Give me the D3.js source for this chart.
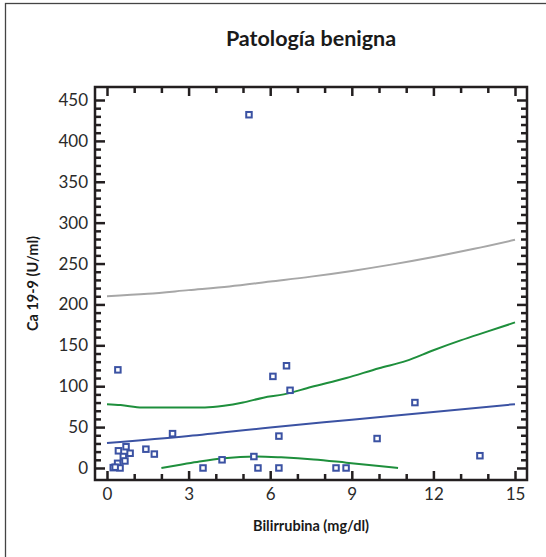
<!DOCTYPE html>
<html>
<head>
<meta charset="utf-8">
<script src="https://cdn.jsdelivr.net/npm/d3@7"></script>
<style>
  body { margin: 0; background: white; }
  svg { display: block; font-family: Lato, "Open Sans", sans-serif; }
</style>
</head>
<body>
<div id="chart"></div>
<script>
// scatter points: bilirrubina (mg/dl) vs Ca 19-9 (U/ml)
var bili = [5.22, 0.4, 6.1, 6.6, 6.73, 11.32, 9.93, 13.71, 6.32, 5.4, 5.55, 6.32, 8.42, 8.79,
  4.23, 3.53, 2.41, 1.43, 1.74, 0.70, 0.42, 0.85, 0.6, 0.66, 0.39, 0.23, 0.48, 0.3];
var ca199 = [432, 120, 112, 125, 95, 80, 36, 15, 39, 14, 0, 0, 0, 0,
  10, 0, 42, 23, 17, 26, 21, 18, 14, 8.6, 5.7, 0.4, 0, 1];

// fitted line
var fitX = [0, 3, 6, 9, 12, 15];
var fitY = [30.5, 39, 49.5, 59, 68.5, 78];

// upper confidence band
var upX = [0, 0.5, 1.3, 2, 3, 3.6, 4.3, 5, 5.75, 6.5, 7.5, 8.8, 10, 11, 12, 13, 14, 15];
var upY = [78, 77, 74, 74, 74, 74, 76, 80, 86, 90, 99, 110, 122, 131, 144, 156, 167, 178];

// lower confidence band
var loX = [2, 2.7, 3.4, 4.3, 5.5, 6.4, 7.6, 8.8, 10, 10.7];
var loY = [0, 4, 8, 12, 14, 13, 10.5, 6.5, 2.4, 0];

// upper prediction limit
var predX = [0, 1.5, 3, 4.5, 6, 7.5, 9, 10.5, 12, 13.5, 15];
var predY = [210, 213, 217.5, 222, 228, 234, 241, 249, 258, 268, 279];

var xMajor = [0, 3, 6, 9, 12, 15];
var yMajor = [0, 50, 100, 150, 200, 250, 300, 350, 400, 450];

var model = {
  width: 546,
  height: 557,
  left: 95,
  right: 527,
  top: 87,
  bottom: 480
};

var svg = d3.select('#chart').append('svg')
  .attr('width', model.width)
  .attr('height', model.height);

// outer frame
svg.append('rect')
  .attr('x', 5.5).attr('y', 3.5)
  .attr('width', 560).attr('height', 580)
  .attr('fill', 'none')
  .attr('stroke', '#444')
  .attr('stroke-width', 1.3);

var x = d3.scaleLinear().domain([-0.441, 15.441]).range([model.left, model.right]);
var y = d3.scaleLinear().domain([-14.7, 465.9]).range([model.bottom, model.top]);

var ink = '#231f20';

// frame of plot
svg.append('rect')
  .attr('x', model.left).attr('y', model.top)
  .attr('width', model.right - model.left)
  .attr('height', model.bottom - model.top)
  .attr('fill', 'none')
  .attr('stroke', ink)
  .attr('stroke-width', 2.5);

var xMinor = d3.range(0, 16, 1).filter((d) => d % 3 !== 0);
var yMinor = d3.range(0, 460, 10).filter((d) => d % 50 !== 0);

function styleAxis(g) {
  g.select('.domain').remove();
  g.selectAll('.tick line').attr('stroke', ink).attr('stroke-width', 2.5);
  g.selectAll('.tick text')
    .attr('fill', '#2a2a2a')
    .style('font-size', '17px')
    .style('font-family', 'Lato, "Open Sans", sans-serif');
}

// bottom
svg.append('g').attr('transform', 'translate(0,' + model.bottom + ')')
  .call(d3.axisBottom(x).tickValues(xMajor).tickSize(-9).tickPadding(8).tickFormat(d3.format('d')))
  .call(styleAxis);
svg.append('g').attr('transform', 'translate(0,' + model.bottom + ')')
  .call(d3.axisBottom(x).tickValues(xMinor).tickSize(-6).tickFormat(''))
  .call(styleAxis);
// top
svg.append('g').attr('transform', 'translate(0,' + model.top + ')')
  .call(d3.axisTop(x).tickValues(xMajor).tickSize(-9).tickFormat(''))
  .call(styleAxis);
svg.append('g').attr('transform', 'translate(0,' + model.top + ')')
  .call(d3.axisTop(x).tickValues(xMinor).tickSize(-6).tickFormat(''))
  .call(styleAxis);
// left
svg.append('g').attr('transform', 'translate(' + model.left + ',0)')
  .call(d3.axisLeft(y).tickValues(yMajor).tickSize(-10).tickPadding(7).tickFormat(d3.format('d')))
  .call(styleAxis);
svg.append('g').attr('transform', 'translate(' + model.left + ',0)')
  .call(d3.axisLeft(y).tickValues(yMinor).tickSize(-6).tickFormat(''))
  .call(styleAxis);
// right
svg.append('g').attr('transform', 'translate(' + model.right + ',0)')
  .call(d3.axisRight(y).tickValues(yMajor).tickSize(-10).tickFormat(''))
  .call(styleAxis);
svg.append('g').attr('transform', 'translate(' + model.right + ',0)')
  .call(d3.axisRight(y).tickValues(yMinor).tickSize(-6).tickFormat(''))
  .call(styleAxis);

var line = d3.line()
  .x((d) => x(d[0]))
  .y((d) => y(d[1]))
  .curve(d3.curveMonotoneX);

var curves = [
  { xs: predX, ys: predY, color: '#a7a7a7' },
  { xs: upX, ys: upY, color: '#1e8f3c' },
  { xs: loX, ys: loY, color: '#1e8f3c' },
  { xs: fitX, ys: fitY, color: '#3b52a3' }
];

svg.selectAll('.curve').data(curves)
  .join('path')
  .attr('class', 'curve')
  .attr('d', (c) => line(c.xs.map((v, i) => [v, c.ys[i]])))
  .attr('fill', 'none')
  .attr('stroke', (c) => c.color)
  .attr('stroke-width', 2);

var pts = bili.map((v, i) => ({ x: v, y: ca199[i] }));
var s = 5.5;

svg.selectAll('.pt').data(pts)
  .join('rect')
  .attr('class', 'pt')
  .attr('x', (d) => x(d.x) - s / 2)
  .attr('y', (d) => y(d.y) - s / 2)
  .attr('width', s)
  .attr('height', s)
  .attr('fill', 'white')
  .attr('stroke', '#3b52a3')
  .attr('stroke-width', 2);

// title and axis labels
svg.append('text')
  .attr('x', (model.left + model.right) / 2)
  .attr('y', 46)
  .attr('text-anchor', 'middle')
  .style('font-size', '21.5px')
  .style('font-weight', 'bold')
  .attr('fill', '#1a1a1a')
  .text('Patología benigna');

svg.append('text')
  .attr('x', (model.left + model.right) / 2)
  .attr('y', 531)
  .attr('text-anchor', 'middle')
  .style('font-size', '14.5px')
  .style('font-weight', 'bold')
  .attr('fill', '#1a1a1a')
  .text('Bilirrubina (mg/dl)');

svg.append('text')
  .attr('transform', 'translate(38,' + (model.top + model.bottom) / 2 + ') rotate(-90)')
  .attr('text-anchor', 'middle')
  .style('font-size', '14.5px')
  .style('font-weight', 'bold')
  .attr('fill', '#1a1a1a')
  .text('Ca 19-9 (U/ml)');
</script>
</body>
</html>
